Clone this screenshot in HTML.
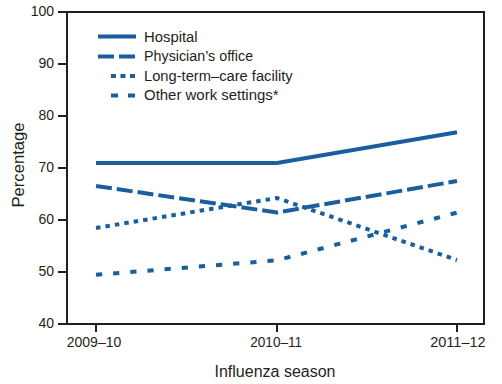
<!DOCTYPE html>
<html>
<head>
<meta charset="utf-8">
<style>
html,body{margin:0;padding:0;background:#fff;}
body{width:502px;height:384px;overflow:hidden;}
svg{display:block;}
text{font-family:"Liberation Sans",sans-serif;fill:#231f20;}
</style>
</head>
<body>
<svg width="502" height="384" viewBox="0 0 502 384" xmlns="http://www.w3.org/2000/svg">
  <!-- frame -->
  <g stroke="#231f20" stroke-width="2" fill="none">
    <rect x="67" y="12" width="417" height="312"/>
    <path d="M58 12H67M58 64H67M58 116H67M58 168H67M58 220H67M58 272H67M58 324H67"/>
    <path d="M96 324V332M277 324V332M457 324V332"/>
  </g>
  <!-- y labels -->
  <g font-size="14" text-anchor="end">
    <text x="54" y="16">100</text>
    <text x="54" y="68">90</text>
    <text x="54" y="120">80</text>
    <text x="54" y="172">70</text>
    <text x="54" y="224">60</text>
    <text x="54" y="276">50</text>
    <text x="54" y="328">40</text>
  </g>
  <!-- x labels -->
  <g font-size="14" text-anchor="middle">
    <text x="94" y="347">2009–10</text>
    <text x="276.2" y="347" textLength="52" lengthAdjust="spacingAndGlyphs">2010–11</text>
    <text x="457.9" y="347" textLength="55.5" lengthAdjust="spacingAndGlyphs">2011–12</text>
  </g>
  <text x="275" y="377.4" font-size="16" text-anchor="middle">Influenza season</text>
  <text transform="translate(24 165) rotate(-90)" font-size="16" text-anchor="middle" textLength="85" lengthAdjust="spacingAndGlyphs">Percentage</text>
  <!-- legend -->
  <g font-size="15.5">
    <text x="144" y="41.5" textLength="53.6" lengthAdjust="spacingAndGlyphs">Hospital</text>
    <text x="144" y="60.5" textLength="109.1" lengthAdjust="spacingAndGlyphs">Physician’s office</text>
    <text x="144" y="80.5" textLength="148.7" lengthAdjust="spacingAndGlyphs">Long-term–care facility</text>
    <text x="144" y="99.5" textLength="134.6" lengthAdjust="spacingAndGlyphs">Other work settings*</text>
  </g>
  <g stroke="#1a5e9d" stroke-width="4" fill="none">
    <path d="M98 36.5H136"/>
    <path d="M98 56.5H135" stroke-dasharray="16 5"/>
    <path d="M110.9 76H135" stroke-dasharray="5 4.55"/>
    <path d="M111 95.5H135" stroke-dasharray="7 10"/>
  </g>
  <!-- data -->
  <g stroke="#1a5e9d" stroke-width="4" fill="none" stroke-linejoin="miter">
    <path d="M96 163L277 163L457 132.2"/>
    <path d="M96 186L277 212.5L457 181" stroke-dasharray="16 5"/>
    <path d="M96 228L277 198L457 260" stroke-dasharray="4.5 5.05"/>
    <path d="M96 274.8L277 260.3L457 212.6" stroke-dasharray="6.2 11"/>
  </g>
</svg>
</body>
</html>
